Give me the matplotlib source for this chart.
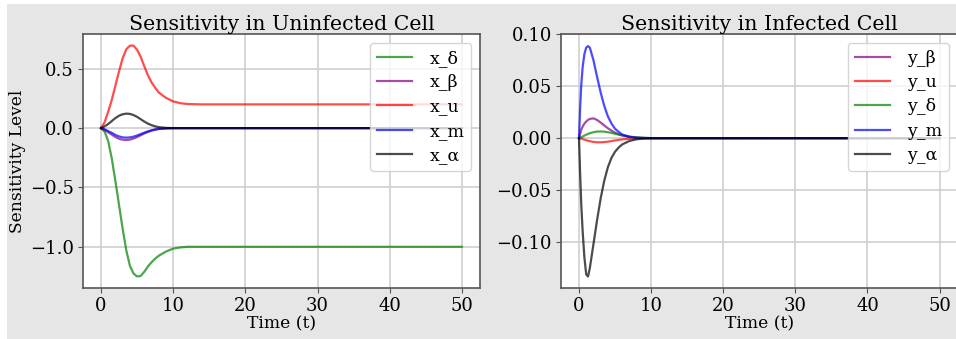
import numpy as np
import matplotlib
matplotlib.use("Agg")
from matplotlib import pyplot as plt
from matplotlib.patches import Rectangle

plt.rcParams['font.family'] = ['DejaVu Serif']

# Tiempos (celula no infectada)
t_x = [0, 0.5, 1, 1.5, 2, 2.5, 3, 3.5, 4, 4.5, 5, 5.5, 6, 6.5, 7, 7.5, 8, 9, 10, 11, 12, 14, 50]
x_delta = [0, -0.03, -0.11, -0.26, -0.45, -0.65, -0.85, -1.03, -1.16, -1.225, -1.25, -1.245, -1.21,
           -1.165, -1.13, -1.10, -1.075, -1.04, -1.015, -1.005, -1.0, -1.0, -1.0]
x_beta = [0, -0.015, -0.035, -0.055, -0.075, -0.09, -0.098, -0.1, -0.097, -0.088, -0.075, -0.06, -0.045,
          -0.032, -0.021, -0.013, -0.008, -0.003, 0, 0, 0, 0, 0]
x_u = [0, 0.05, 0.14, 0.24, 0.36, 0.48, 0.59, 0.665, 0.695, 0.695, 0.66, 0.60, 0.52,
       0.445, 0.385, 0.34, 0.30, 0.255, 0.225, 0.21, 0.203, 0.2, 0.2]
x_m = [0, -0.01, -0.025, -0.04, -0.058, -0.07, -0.078, -0.08, -0.078, -0.072, -0.062, -0.05, -0.038,
       -0.027, -0.018, -0.011, -0.006, -0.002, 0, 0, 0, 0, 0]
x_alpha = [0, 0.015, 0.035, 0.06, 0.085, 0.105, 0.117, 0.122, 0.12, 0.11, 0.095, 0.075, 0.055,
           0.038, 0.025, 0.015, 0.008, 0.002, 0, 0, 0, 0, 0]

# Tiempos (celula infectada)
t_y = [0, 0.15, 0.3, 0.5, 0.75, 1, 1.25, 1.5, 2, 2.5, 3, 3.5, 4, 4.5, 5, 5.5, 6, 7, 8, 9, 10, 50]
y_beta = [0, 0.004, 0.008, 0.011, 0.014, 0.016, 0.0175, 0.0185, 0.019, 0.0175, 0.015, 0.0122, 0.0095,
          0.0072, 0.0052, 0.0037, 0.0026, 0.0011, 0.0004, 0.0001, 0, 0]
y_u = [0, -0.0002, -0.0005, -0.0009, -0.0015, -0.002, -0.0025, -0.003, -0.0036, -0.004, -0.004, -0.0038,
       -0.0034, -0.0028, -0.0022, -0.0017, -0.0012, -0.0006, -0.0002, -0.0001, 0, 0]
y_delta = [0, 0.0003, 0.0008, 0.0015, 0.0025, 0.0033, 0.004, 0.0047, 0.0057, 0.0063, 0.0064, 0.0062,
           0.0057, 0.005, 0.0042, 0.0034, 0.0027, 0.0015, 0.0007, 0.0003, 0, 0]
y_m = [0, 0.028, 0.05, 0.068, 0.081, 0.087, 0.0885, 0.087, 0.075, 0.059, 0.044, 0.031, 0.021,
       0.014, 0.009, 0.006, 0.0035, 0.0012, 0.0004, 0.0001, 0, 0]
y_alpha = [0, -0.033, -0.062, -0.089, -0.115, -0.131, -0.133, -0.125, -0.102, -0.079, -0.058, -0.041,
           -0.028, -0.019, -0.013, -0.009, -0.006, -0.0027, -0.0011, -0.0004, -0.0001, 0]

fig = plt.figure(figsize=(9.56, 3.39), dpi=100)
fig.patch.set_facecolor('white')
# fondo gris como en la captura (borde blanco arriba e izquierda)
fig.patches.append(Rectangle((7 / 956, 0), 1, 1 - 4 / 339, transform=fig.transFigure,
                             facecolor='#e6e6e6', edgecolor='none', zorder=-10))

ax1 = fig.add_axes([0.0868, 0.1504, 0.4153, 0.749])
ax2 = fig.add_axes([0.5868, 0.1504, 0.4149, 0.749])

curvas_x = [(x_delta, 'green', 'x_δ'), (x_beta, 'purple', 'x_β'), (x_u, 'red', 'x_u'),
            (x_m, 'blue', 'x_m'), (x_alpha, 'black', 'x_α')]
curvas_y = [(y_beta, 'purple', 'y_β'), (y_u, 'red', 'y_u'), (y_delta, 'green', 'y_δ'),
            (y_m, 'blue', 'y_m'), (y_alpha, 'black', 'y_α')]

for valores, color, nombre in curvas_x:
    ax1.plot(t_x, valores, color=color, alpha=0.7, lw=1.6, label=nombre)
for valores, color, nombre in curvas_y:
    ax2.plot(t_y, valores, color=color, alpha=0.7, lw=1.6, label=nombre)

ax1.set_title("Sensitivity in Uninfected Cell", fontsize=14.8, pad=2)
ax2.set_title("Sensitivity in Infected Cell", fontsize=14.8, pad=2)
ax1.set_ylabel("Sensitivity Level", fontsize=12.3, labelpad=3)
ax1.set_xlabel("Time (t)", fontsize=12.3, labelpad=0)
ax2.set_xlabel("Time (t)", fontsize=12.3, labelpad=0)

ax1.set_yticks([-1.0, -0.5, 0.0, 0.5])
ax2.set_yticks([-0.10, -0.05, 0.00, 0.05, 0.10])

for ax in (ax1, ax2):
    ax.set_xticks([0, 10, 20, 30, 40, 50])
    ax.grid(True, color='#d0d0d0', lw=1.2)
    ax.set_axisbelow(True)
    ax.tick_params(labelsize=13, color='#555555', pad=3)
    for s in ax.spines.values():
        s.set_color('#555555')
        s.set_linewidth(1.2)
    ax.legend(loc='upper right', fontsize=12.5, labelspacing=0.42, borderpad=0.4,
              handletextpad=1.0)

plt.savefig("out.png", dpi=100, facecolor=fig.get_facecolor())
